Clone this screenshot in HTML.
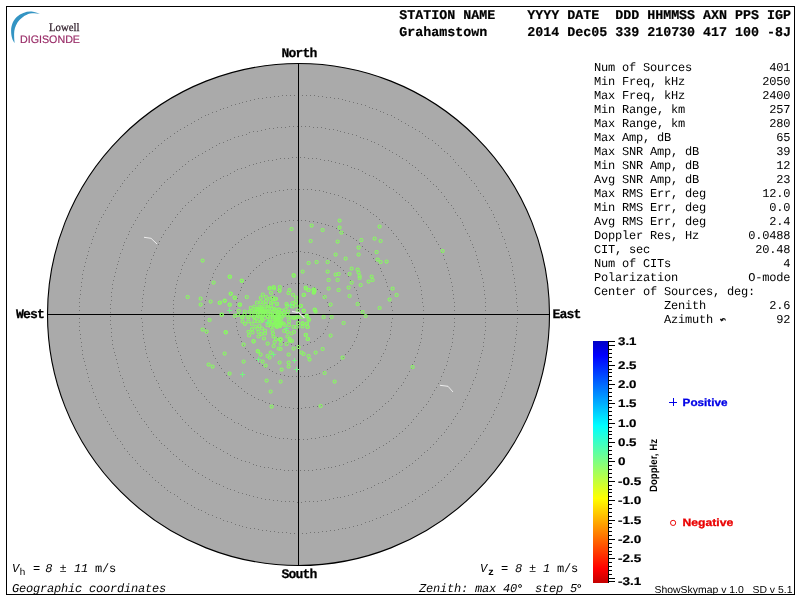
<!DOCTYPE html>
<html><head><meta charset="utf-8"><title>Skymap</title>
<style>
html,body{margin:0;padding:0;background:#fff;}
body{width:800px;height:600px;overflow:hidden;position:relative;font-family:"Liberation Sans",sans-serif;}
svg{position:absolute;left:0;top:0;display:block;will-change:transform;text-rendering:geometricPrecision}
.m{font-family:"Liberation Mono",monospace;}
.s{font-family:"Liberation Sans",sans-serif;}
.sf{font-family:"Liberation Serif",serif;}
text{white-space:pre}
</style></head><body>
<svg width="800" height="600" viewBox="0 0 800 600">
<defs>
<linearGradient id="cb" x1="0" y1="0" x2="0" y2="1">
<stop offset="0" stop-color="#0000c4"/>
<stop offset="0.06" stop-color="#0000ff"/>
<stop offset="0.35" stop-color="#00ffff"/>
<stop offset="0.5" stop-color="#80ff80"/>
<stop offset="0.65" stop-color="#ffff00"/>
<stop offset="0.94" stop-color="#ff0000"/>
<stop offset="1" stop-color="#c40000"/>
</linearGradient>
</defs>

<rect x="6.5" y="6.5" width="788" height="588" fill="none" stroke="#000" stroke-width="1" shape-rendering="crispEdges"/>
<circle cx="298.5" cy="314.5" r="251.0" fill="#aaaaaa" stroke="#000" stroke-width="1.1"/>
<path d="M329 314.5h1M329 310.5h1M328 306.5h1M327 302.5h1M325 298.5h1M323 295.5h1M320 292.5h1M317 289.5h1M314 287.5h1M310 285.5h1M307 284.5h1M303 283.5h1M299 283.5h1M295 283.5h1M291 283.5h1M287 284.5h1M283 286.5h1M280 288.5h1M277 291.5h1M274 294.5h1M272 297.5h1M270 300.5h1M268 304.5h1M267 308.5h1M267 312.5h1M267 316.5h1M267 320.5h1M268 324.5h1M270 327.5h1M272 331.5h1M274 334.5h1M277 337.5h1M280 339.5h1M283 342.5h1M287 343.5h1M291 344.5h1M295 345.5h1M299 345.5h1M303 345.5h1M307 344.5h1M310 342.5h1M314 341.5h1M317 338.5h1M320 336.5h1M323 333.5h1M325 329.5h1M327 326.5h1M328 322.5h1M329 318.5h1M360 314.5h1M360 310.5h1M360 306.5h1M359 302.5h1M358 298.5h1M357 294.5h1M356 290.5h1M354 287.5h1M352 283.5h1M350 280.5h1M348 276.5h1M345 273.5h1M343 270.5h1M340 267.5h1M337 265.5h1M334 262.5h1M330 260.5h1M327 258.5h1M323 257.5h1M319 255.5h1M316 254.5h1M312 253.5h1M308 252.5h1M304 252.5h1M300 251.5h1M296 251.5h1M292 252.5h1M288 252.5h1M284 253.5h1M280 254.5h1M276 255.5h1M272 257.5h1M269 258.5h1M265 260.5h1M262 262.5h1M259 265.5h1M256 267.5h1M253 270.5h1M250 273.5h1M248 276.5h1M245 280.5h1M243 283.5h1M241 287.5h1M240 290.5h1M238 294.5h1M237 298.5h1M236 302.5h1M236 306.5h1M235 310.5h1M235 314.5h1M235 318.5h1M236 322.5h1M236 326.5h1M237 330.5h1M238 334.5h1M240 337.5h1M241 341.5h1M243 345.5h1M245 348.5h1M248 351.5h1M250 354.5h1M253 357.5h1M256 360.5h1M259 363.5h1M262 365.5h1M265 367.5h1M269 369.5h1M272 371.5h1M276 373.5h1M280 374.5h1M284 375.5h1M288 376.5h1M292 376.5h1M296 376.5h1M300 376.5h1M304 376.5h1M308 376.5h1M312 375.5h1M316 374.5h1M319 373.5h1M323 371.5h1M327 369.5h1M330 367.5h1M334 365.5h1M337 363.5h1M340 360.5h1M343 357.5h1M345 354.5h1M348 351.5h1M350 348.5h1M352 345.5h1M354 341.5h1M356 337.5h1M357 334.5h1M358 330.5h1M359 326.5h1M360 322.5h1M360 318.5h1M392 314.5h1M392 310.5h1M391 306.5h1M391 302.5h1M390 298.5h1M390 294.5h1M389 290.5h1M387 286.5h1M386 282.5h1M385 279.5h1M383 275.5h1M381 271.5h1M380 268.5h1M378 264.5h1M375 261.5h1M373 258.5h1M371 254.5h1M368 251.5h1M365 249.5h1M362 246.5h1M359 243.5h1M356 240.5h1M353 238.5h1M350 236.5h1M346 234.5h1M343 232.5h1M339 230.5h1M336 228.5h1M332 226.5h1M328 225.5h1M325 224.5h1M321 223.5h1M317 222.5h1M313 221.5h1M309 221.5h1M305 220.5h1M301 220.5h1M297 220.5h1M293 220.5h1M289 220.5h1M285 221.5h1M281 221.5h1M277 222.5h1M273 223.5h1M269 224.5h1M265 226.5h1M262 227.5h1M258 229.5h1M254 231.5h1M251 233.5h1M247 235.5h1M244 237.5h1M241 239.5h1M238 242.5h1M235 244.5h1M232 247.5h1M229 250.5h1M226 253.5h1M224 256.5h1M221 259.5h1M219 263.5h1M217 266.5h1M215 269.5h1M213 273.5h1M212 277.5h1M210 280.5h1M209 284.5h1M208 288.5h1M207 292.5h1M206 296.5h1M205 300.5h1M204 304.5h1M204 308.5h1M204 312.5h1M204 316.5h1M204 320.5h1M204 324.5h1M205 328.5h1M206 332.5h1M207 336.5h1M208 340.5h1M209 343.5h1M210 347.5h1M212 351.5h1M213 355.5h1M215 358.5h1M217 362.5h1M219 365.5h1M221 368.5h1M224 372.5h1M226 375.5h1M229 378.5h1M232 381.5h1M235 383.5h1M238 386.5h1M241 388.5h1M244 391.5h1M247 393.5h1M251 395.5h1M254 397.5h1M258 399.5h1M262 400.5h1M265 402.5h1M269 403.5h1M273 404.5h1M277 405.5h1M281 406.5h1M285 407.5h1M289 407.5h1M293 408.5h1M297 408.5h1M301 408.5h1M305 407.5h1M309 407.5h1M313 406.5h1M317 406.5h1M321 405.5h1M325 404.5h1M328 403.5h1M332 401.5h1M336 400.5h1M339 398.5h1M343 396.5h1M346 394.5h1M350 392.5h1M353 390.5h1M356 387.5h1M359 385.5h1M362 382.5h1M365 379.5h1M368 376.5h1M371 373.5h1M373 370.5h1M375 367.5h1M378 363.5h1M380 360.5h1M381 356.5h1M383 353.5h1M385 349.5h1M386 345.5h1M387 341.5h1M389 338.5h1M390 334.5h1M390 330.5h1M391 326.5h1M391 322.5h1M392 318.5h1M423 314.5h1M423 310.5h1M423 306.5h1M422 302.5h1M422 298.5h1M421 294.5h1M421 290.5h1M420 286.5h1M419 282.5h1M418 278.5h1M417 275.5h1M415 271.5h1M414 267.5h1M412 263.5h1M411 260.5h1M409 256.5h1M407 253.5h1M405 249.5h1M403 246.5h1M401 243.5h1M398 239.5h1M396 236.5h1M393 233.5h1M391 230.5h1M388 227.5h1M385 224.5h1M382 222.5h1M379 219.5h1M376 216.5h1M373 214.5h1M370 212.5h1M367 209.5h1M363 207.5h1M360 205.5h1M356 203.5h1M353 201.5h1M349 200.5h1M345 198.5h1M342 197.5h1M338 195.5h1M334 194.5h1M330 193.5h1M326 192.5h1M323 191.5h1M319 190.5h1M315 190.5h1M311 189.5h1M307 189.5h1M303 189.5h1M299 189.5h1M295 189.5h1M291 189.5h1M287 189.5h1M283 190.5h1M279 190.5h1M275 191.5h1M271 192.5h1M267 192.5h1M263 193.5h1M260 195.5h1M256 196.5h1M252 197.5h1M248 199.5h1M245 200.5h1M241 202.5h1M238 204.5h1M234 206.5h1M231 208.5h1M227 210.5h1M224 213.5h1M221 215.5h1M218 218.5h1M215 220.5h1M212 223.5h1M209 226.5h1M206 229.5h1M204 232.5h1M201 235.5h1M198 238.5h1M196 241.5h1M194 244.5h1M192 248.5h1M190 251.5h1M188 254.5h1M186 258.5h1M184 262.5h1M182 265.5h1M181 269.5h1M180 273.5h1M178 276.5h1M177 280.5h1M176 284.5h1M175 288.5h1M175 292.5h1M174 296.5h1M173 300.5h1M173 304.5h1M173 308.5h1M173 312.5h1M173 316.5h1M173 320.5h1M173 324.5h1M173 328.5h1M174 332.5h1M175 336.5h1M175 340.5h1M176 343.5h1M177 347.5h1M178 351.5h1M180 355.5h1M181 359.5h1M182 362.5h1M184 366.5h1M186 370.5h1M188 373.5h1M190 377.5h1M192 380.5h1M194 383.5h1M196 387.5h1M198 390.5h1M201 393.5h1M204 396.5h1M206 399.5h1M209 402.5h1M212 405.5h1M215 407.5h1M218 410.5h1M221 413.5h1M224 415.5h1M227 417.5h1M231 419.5h1M234 422.5h1M238 423.5h1M241 425.5h1M245 427.5h1M248 429.5h1M252 430.5h1M256 432.5h1M260 433.5h1M263 434.5h1M267 435.5h1M271 436.5h1M275 437.5h1M279 438.5h1M283 438.5h1M287 438.5h1M291 439.5h1M295 439.5h1M299 439.5h1M303 439.5h1M307 439.5h1M311 438.5h1M315 438.5h1M319 437.5h1M323 436.5h1M326 436.5h1M330 435.5h1M334 434.5h1M338 432.5h1M342 431.5h1M345 430.5h1M349 428.5h1M353 426.5h1M356 424.5h1M360 423.5h1M363 420.5h1M367 418.5h1M370 416.5h1M373 414.5h1M376 411.5h1M379 409.5h1M382 406.5h1M385 403.5h1M388 401.5h1M391 398.5h1M393 395.5h1M396 391.5h1M398 388.5h1M401 385.5h1M403 382.5h1M405 378.5h1M407 375.5h1M409 371.5h1M411 368.5h1M412 364.5h1M414 361.5h1M415 357.5h1M417 353.5h1M418 349.5h1M419 345.5h1M420 342.5h1M421 338.5h1M421 334.5h1M422 330.5h1M422 326.5h1M423 322.5h1M423 318.5h1M454 314.5h1M454 310.5h1M454 306.5h1M454 302.5h1M453 298.5h1M453 294.5h1M452 290.5h1M452 286.5h1M451 282.5h1M450 278.5h1M449 274.5h1M448 270.5h1M447 267.5h1M446 263.5h1M444 259.5h1M443 255.5h1M441 252.5h1M440 248.5h1M438 244.5h1M436 241.5h1M434 237.5h1M432 234.5h1M430 230.5h1M428 227.5h1M426 224.5h1M423 221.5h1M421 217.5h1M418 214.5h1M416 211.5h1M413 208.5h1M411 205.5h1M408 202.5h1M405 200.5h1M402 197.5h1M399 194.5h1M396 192.5h1M393 189.5h1M389 187.5h1M386 185.5h1M383 182.5h1M379 180.5h1M376 178.5h1M373 176.5h1M369 175.5h1M365 173.5h1M362 171.5h1M358 169.5h1M354 168.5h1M351 167.5h1M347 165.5h1M343 164.5h1M339 163.5h1M335 162.5h1M331 161.5h1M328 160.5h1M324 160.5h1M320 159.5h1M316 158.5h1M312 158.5h1M308 158.5h1M304 157.5h1M300 157.5h1M296 157.5h1M292 157.5h1M288 158.5h1M284 158.5h1M280 158.5h1M276 159.5h1M272 160.5h1M268 160.5h1M264 161.5h1M260 162.5h1M256 163.5h1M253 164.5h1M249 165.5h1M245 167.5h1M241 168.5h1M237 169.5h1M234 171.5h1M230 173.5h1M227 175.5h1M223 176.5h1M220 178.5h1M216 180.5h1M213 182.5h1M209 185.5h1M206 187.5h1M203 189.5h1M200 192.5h1M197 194.5h1M194 197.5h1M191 200.5h1M188 202.5h1M185 205.5h1M182 208.5h1M180 211.5h1M177 214.5h1M175 217.5h1M172 221.5h1M170 224.5h1M168 227.5h1M165 230.5h1M163 234.5h1M161 237.5h1M159 241.5h1M158 244.5h1M156 248.5h1M154 252.5h1M153 255.5h1M151 259.5h1M150 263.5h1M149 267.5h1M147 270.5h1M146 274.5h1M145 278.5h1M145 282.5h1M144 286.5h1M143 290.5h1M143 294.5h1M142 298.5h1M142 302.5h1M142 306.5h1M141 310.5h1M141 314.5h1M141 318.5h1M142 322.5h1M142 326.5h1M142 330.5h1M143 334.5h1M143 338.5h1M144 342.5h1M145 346.5h1M145 349.5h1M146 353.5h1M147 357.5h1M149 361.5h1M150 365.5h1M151 369.5h1M153 372.5h1M154 376.5h1M156 380.5h1M158 383.5h1M159 387.5h1M161 390.5h1M163 394.5h1M165 397.5h1M168 401.5h1M170 404.5h1M172 407.5h1M175 410.5h1M177 413.5h1M180 416.5h1M182 419.5h1M185 422.5h1M188 425.5h1M191 428.5h1M194 431.5h1M197 433.5h1M200 436.5h1M203 438.5h1M206 441.5h1M209 443.5h1M213 445.5h1M216 447.5h1M220 449.5h1M223 451.5h1M227 453.5h1M230 455.5h1M234 457.5h1M237 458.5h1M241 460.5h1M245 461.5h1M249 462.5h1M253 464.5h1M256 465.5h1M260 466.5h1M264 467.5h1M268 467.5h1M272 468.5h1M276 469.5h1M280 469.5h1M284 470.5h1M288 470.5h1M292 470.5h1M296 470.5h1M300 470.5h1M304 470.5h1M308 470.5h1M312 470.5h1M316 469.5h1M320 469.5h1M324 468.5h1M328 467.5h1M331 467.5h1M335 466.5h1M339 465.5h1M343 464.5h1M347 462.5h1M351 461.5h1M354 460.5h1M358 458.5h1M362 457.5h1M365 455.5h1M369 453.5h1M373 451.5h1M376 449.5h1M379 447.5h1M383 445.5h1M386 443.5h1M389 441.5h1M393 438.5h1M396 436.5h1M399 433.5h1M402 431.5h1M405 428.5h1M408 425.5h1M411 422.5h1M413 419.5h1M416 416.5h1M418 413.5h1M421 410.5h1M423 407.5h1M426 404.5h1M428 401.5h1M430 397.5h1M432 394.5h1M434 390.5h1M436 387.5h1M438 383.5h1M440 380.5h1M441 376.5h1M443 372.5h1M444 369.5h1M446 365.5h1M447 361.5h1M448 357.5h1M449 353.5h1M450 349.5h1M451 346.5h1M452 342.5h1M452 338.5h1M453 334.5h1M453 330.5h1M454 326.5h1M454 322.5h1M454 318.5h1M486 314.5h1M485 310.5h1M485 306.5h1M485 302.5h1M485 298.5h1M484 294.5h1M484 290.5h1M483 286.5h1M483 282.5h1M482 278.5h1M481 274.5h1M480 270.5h1M479 266.5h1M478 262.5h1M477 259.5h1M476 255.5h1M475 251.5h1M473 247.5h1M472 244.5h1M470 240.5h1M469 236.5h1M467 233.5h1M465 229.5h1M463 225.5h1M462 222.5h1M460 218.5h1M457 215.5h1M455 212.5h1M453 208.5h1M451 205.5h1M448 202.5h1M446 199.5h1M444 196.5h1M441 192.5h1M438 189.5h1M436 186.5h1M433 184.5h1M430 181.5h1M427 178.5h1M424 175.5h1M421 173.5h1M418 170.5h1M415 167.5h1M412 165.5h1M409 163.5h1M406 160.5h1M402 158.5h1M399 156.5h1M396 154.5h1M392 152.5h1M389 150.5h1M385 148.5h1M382 146.5h1M378 144.5h1M374 142.5h1M371 141.5h1M367 139.5h1M363 138.5h1M360 137.5h1M356 135.5h1M352 134.5h1M348 133.5h1M344 132.5h1M340 131.5h1M337 130.5h1M333 129.5h1M329 129.5h1M325 128.5h1M321 127.5h1M317 127.5h1M313 127.5h1M309 126.5h1M305 126.5h1M301 126.5h1M297 126.5h1M293 126.5h1M289 126.5h1M285 127.5h1M281 127.5h1M277 127.5h1M273 128.5h1M269 128.5h1M265 129.5h1M261 130.5h1M257 131.5h1M253 131.5h1M249 132.5h1M246 134.5h1M242 135.5h1M238 136.5h1M234 137.5h1M230 139.5h1M227 140.5h1M223 142.5h1M219 143.5h1M216 145.5h1M212 147.5h1M209 149.5h1M205 151.5h1M202 153.5h1M198 155.5h1M195 157.5h1M192 159.5h1M188 161.5h1M185 164.5h1M182 166.5h1M179 169.5h1M176 171.5h1M173 174.5h1M170 177.5h1M167 179.5h1M164 182.5h1M161 185.5h1M159 188.5h1M156 191.5h1M153 194.5h1M151 197.5h1M148 200.5h1M146 203.5h1M144 207.5h1M141 210.5h1M139 213.5h1M137 217.5h1M135 220.5h1M133 224.5h1M131 227.5h1M129 231.5h1M128 234.5h1M126 238.5h1M124 242.5h1M123 245.5h1M122 249.5h1M120 253.5h1M119 257.5h1M118 261.5h1M117 264.5h1M116 268.5h1M115 272.5h1M114 276.5h1M113 280.5h1M112 284.5h1M112 288.5h1M111 292.5h1M111 296.5h1M111 300.5h1M110 304.5h1M110 308.5h1M110 312.5h1M110 316.5h1M110 320.5h1M110 324.5h1M111 328.5h1M111 332.5h1M111 336.5h1M112 340.5h1M112 344.5h1M113 348.5h1M114 352.5h1M115 355.5h1M116 359.5h1M117 363.5h1M118 367.5h1M119 371.5h1M120 375.5h1M122 378.5h1M123 382.5h1M124 386.5h1M126 390.5h1M128 393.5h1M129 397.5h1M131 400.5h1M133 404.5h1M135 407.5h1M137 411.5h1M139 414.5h1M141 418.5h1M144 421.5h1M146 424.5h1M148 427.5h1M151 431.5h1M153 434.5h1M156 437.5h1M159 440.5h1M161 443.5h1M164 445.5h1M167 448.5h1M170 451.5h1M173 454.5h1M176 456.5h1M179 459.5h1M182 461.5h1M185 464.5h1M188 466.5h1M192 469.5h1M195 471.5h1M198 473.5h1M202 475.5h1M205 477.5h1M209 479.5h1M212 481.5h1M216 483.5h1M219 484.5h1M223 486.5h1M227 488.5h1M230 489.5h1M234 490.5h1M238 492.5h1M242 493.5h1M246 494.5h1M249 495.5h1M253 496.5h1M257 497.5h1M261 498.5h1M265 499.5h1M269 499.5h1M273 500.5h1M277 500.5h1M281 501.5h1M285 501.5h1M289 501.5h1M293 501.5h1M297 502.5h1M301 502.5h1M305 501.5h1M309 501.5h1M313 501.5h1M317 501.5h1M321 500.5h1M325 500.5h1M329 499.5h1M333 498.5h1M337 497.5h1M340 497.5h1M344 496.5h1M348 495.5h1M352 494.5h1M356 492.5h1M360 491.5h1M363 490.5h1M367 488.5h1M371 487.5h1M374 485.5h1M378 483.5h1M382 482.5h1M385 480.5h1M389 478.5h1M392 476.5h1M396 474.5h1M399 472.5h1M402 470.5h1M406 467.5h1M409 465.5h1M412 463.5h1M415 460.5h1M418 458.5h1M421 455.5h1M424 452.5h1M427 450.5h1M430 447.5h1M433 444.5h1M436 441.5h1M438 438.5h1M441 435.5h1M444 432.5h1M446 429.5h1M448 426.5h1M451 423.5h1M453 419.5h1M455 416.5h1M457 413.5h1M460 409.5h1M462 406.5h1M463 402.5h1M465 399.5h1M467 395.5h1M469 391.5h1M470 388.5h1M472 384.5h1M473 380.5h1M475 377.5h1M476 373.5h1M477 369.5h1M478 365.5h1M479 361.5h1M480 357.5h1M481 353.5h1M482 350.5h1M483 346.5h1M483 342.5h1M484 338.5h1M484 334.5h1M485 330.5h1M485 326.5h1M485 322.5h1M485 318.5h1M517 314.5h1M517 310.5h1M517 306.5h1M516 302.5h1M516 298.5h1M516 294.5h1M515 290.5h1M515 286.5h1M514 282.5h1M514 278.5h1M513 274.5h1M512 270.5h1M512 266.5h1M511 262.5h1M510 258.5h1M509 255.5h1M508 251.5h1M506 247.5h1M505 243.5h1M504 239.5h1M502 236.5h1M501 232.5h1M499 228.5h1M498 224.5h1M496 221.5h1M494 217.5h1M493 214.5h1M491 210.5h1M489 207.5h1M487 203.5h1M485 200.5h1M483 196.5h1M480 193.5h1M478 190.5h1M476 186.5h1M474 183.5h1M471 180.5h1M469 177.5h1M466 174.5h1M464 171.5h1M461 168.5h1M458 165.5h1M455 162.5h1M453 159.5h1M450 156.5h1M447 153.5h1M444 151.5h1M441 148.5h1M438 145.5h1M435 143.5h1M432 140.5h1M428 138.5h1M425 136.5h1M422 133.5h1M419 131.5h1M415 129.5h1M412 127.5h1M408 125.5h1M405 123.5h1M401 121.5h1M398 119.5h1M394 117.5h1M391 115.5h1M387 114.5h1M383 112.5h1M380 111.5h1M376 109.5h1M372 108.5h1M369 107.5h1M365 105.5h1M361 104.5h1M357 103.5h1M353 102.5h1M349 101.5h1M345 100.5h1M342 99.5h1M338 98.5h1M334 98.5h1M330 97.5h1M326 97.5h1M322 96.5h1M318 96.5h1M314 95.5h1M310 95.5h1M306 95.5h1M302 95.5h1M298 95.5h1M294 95.5h1M290 95.5h1M286 95.5h1M282 95.5h1M278 96.5h1M274 96.5h1M270 97.5h1M266 97.5h1M262 98.5h1M258 98.5h1M254 99.5h1M250 100.5h1M246 101.5h1M242 102.5h1M239 103.5h1M235 104.5h1M231 105.5h1M227 107.5h1M223 108.5h1M220 109.5h1M216 111.5h1M212 112.5h1M208 114.5h1M205 115.5h1M201 117.5h1M198 119.5h1M194 121.5h1M191 123.5h1M187 125.5h1M184 127.5h1M180 129.5h1M177 131.5h1M174 133.5h1M170 136.5h1M167 138.5h1M164 140.5h1M161 143.5h1M158 145.5h1M155 148.5h1M152 151.5h1M149 153.5h1M146 156.5h1M143 159.5h1M140 162.5h1M137 165.5h1M135 168.5h1M132 171.5h1M129 174.5h1M127 177.5h1M124 180.5h1M122 183.5h1M120 186.5h1M117 190.5h1M115 193.5h1M113 196.5h1M111 200.5h1M109 203.5h1M107 207.5h1M105 210.5h1M103 214.5h1M101 217.5h1M99 221.5h1M98 224.5h1M96 228.5h1M95 232.5h1M93 236.5h1M92 239.5h1M91 243.5h1M89 247.5h1M88 251.5h1M87 255.5h1M86 258.5h1M85 262.5h1M84 266.5h1M83 270.5h1M82 274.5h1M82 278.5h1M81 282.5h1M81 286.5h1M80 290.5h1M80 294.5h1M79 298.5h1M79 302.5h1M79 306.5h1M79 310.5h1M79 314.5h1M79 318.5h1M79 322.5h1M79 326.5h1M79 330.5h1M80 334.5h1M80 338.5h1M81 342.5h1M81 346.5h1M82 350.5h1M82 354.5h1M83 358.5h1M84 361.5h1M85 365.5h1M86 369.5h1M87 373.5h1M88 377.5h1M89 381.5h1M91 385.5h1M92 388.5h1M93 392.5h1M95 396.5h1M96 399.5h1M98 403.5h1M99 407.5h1M101 410.5h1M103 414.5h1M105 417.5h1M107 421.5h1M109 424.5h1M111 428.5h1M113 431.5h1M115 435.5h1M117 438.5h1M120 441.5h1M122 444.5h1M124 448.5h1M127 451.5h1M129 454.5h1M132 457.5h1M135 460.5h1M137 463.5h1M140 466.5h1M143 469.5h1M146 471.5h1M149 474.5h1M152 477.5h1M155 480.5h1M158 482.5h1M161 485.5h1M164 487.5h1M167 490.5h1M170 492.5h1M174 494.5h1M177 496.5h1M180 499.5h1M184 501.5h1M187 503.5h1M191 505.5h1M194 507.5h1M198 509.5h1M201 510.5h1M205 512.5h1M208 514.5h1M212 515.5h1M216 517.5h1M220 518.5h1M223 520.5h1M227 521.5h1M231 522.5h1M235 524.5h1M239 525.5h1M242 526.5h1M246 527.5h1M250 528.5h1M254 528.5h1M258 529.5h1M262 530.5h1M266 530.5h1M270 531.5h1M274 531.5h1M278 532.5h1M282 532.5h1M286 532.5h1M290 533.5h1M294 533.5h1M298 533.5h1M302 533.5h1M306 533.5h1M310 532.5h1M314 532.5h1M318 532.5h1M322 531.5h1M326 531.5h1M330 530.5h1M334 530.5h1M338 529.5h1M342 528.5h1M345 528.5h1M349 527.5h1M353 526.5h1M357 525.5h1M361 524.5h1M365 522.5h1M369 521.5h1M372 520.5h1M376 518.5h1M380 517.5h1M383 515.5h1M387 514.5h1M391 512.5h1M394 510.5h1M398 509.5h1M401 507.5h1M405 505.5h1M408 503.5h1M412 501.5h1M415 499.5h1M419 496.5h1M422 494.5h1M425 492.5h1M428 490.5h1M432 487.5h1M435 485.5h1M438 482.5h1M441 480.5h1M444 477.5h1M447 474.5h1M450 471.5h1M453 469.5h1M455 466.5h1M458 463.5h1M461 460.5h1M464 457.5h1M466 454.5h1M469 451.5h1M471 448.5h1M474 444.5h1M476 441.5h1M478 438.5h1M480 435.5h1M483 431.5h1M485 428.5h1M487 424.5h1M489 421.5h1M491 417.5h1M493 414.5h1M494 410.5h1M496 407.5h1M498 403.5h1M499 399.5h1M501 396.5h1M502 392.5h1M504 388.5h1M505 385.5h1M506 381.5h1M508 377.5h1M509 373.5h1M510 369.5h1M511 365.5h1M512 361.5h1M512 358.5h1M513 354.5h1M514 350.5h1M514 346.5h1M515 342.5h1M515 338.5h1M516 334.5h1M516 330.5h1M516 326.5h1M517 322.5h1M517 318.5h1" stroke="#747474" stroke-width="1" fill="none" shape-rendering="crispEdges"/>
<path d="M298.5 63.5V565.5M47.5 314.5H549.5" stroke="#000" stroke-width="1" fill="none" shape-rendering="crispEdges"/>
<g fill="none" stroke="#ececec" stroke-width="1">
<path d="M144 237.3L151 238.3L157 244"/>
<path d="M440 385.3L448 386.3L453 392"/>
</g>
<g fill="none" stroke="#88f962" stroke-width="1.1">
<circle cx="246.8" cy="297.0" r="1.55"/>
<circle cx="262.8" cy="294.5" r="1.55"/>
<circle cx="271.0" cy="292.8" r="1.55"/>
<circle cx="269.5" cy="288.5" r="1.55"/>
<circle cx="274.0" cy="288.5" r="1.55"/>
<circle cx="279.5" cy="290.5" r="1.55"/>
<circle cx="266.0" cy="297.0" r="1.55"/>
<circle cx="260.8" cy="297.8" r="1.55"/>
<circle cx="270.0" cy="298.8" r="1.55"/>
<circle cx="272.5" cy="297.5" r="1.55"/>
<circle cx="275.0" cy="298.8" r="1.55"/>
<circle cx="257.0" cy="302.5" r="1.55"/>
<circle cx="260.5" cy="302.0" r="1.55"/>
<circle cx="263.5" cy="302.5" r="1.55"/>
<circle cx="266.0" cy="301.2" r="1.55"/>
<circle cx="277.0" cy="303.8" r="1.55"/>
<circle cx="271.0" cy="303.0" r="1.55"/>
<circle cx="273.0" cy="301.8" r="1.55"/>
<circle cx="240.0" cy="304.5" r="1.55"/>
<circle cx="250.8" cy="307.8" r="1.55"/>
<circle cx="261.5" cy="306.5" r="1.55"/>
<circle cx="265.5" cy="304.5" r="1.55"/>
<circle cx="268.0" cy="306.5" r="1.55"/>
<circle cx="271.0" cy="305.5" r="1.55"/>
<circle cx="255.5" cy="309.0" r="1.55"/>
<circle cx="258.0" cy="309.0" r="1.55"/>
<circle cx="261.5" cy="308.5" r="1.55"/>
<circle cx="264.5" cy="308.5" r="1.55"/>
<circle cx="268.5" cy="308.0" r="1.55"/>
<circle cx="272.0" cy="309.0" r="1.55"/>
<circle cx="274.5" cy="310.0" r="1.55"/>
<circle cx="278.5" cy="309.5" r="1.55"/>
<circle cx="244.8" cy="311.5" r="1.55"/>
<circle cx="249.5" cy="311.5" r="1.55"/>
<circle cx="251.5" cy="310.5" r="1.55"/>
<circle cx="255.0" cy="311.5" r="1.55"/>
<circle cx="257.5" cy="312.0" r="1.55"/>
<circle cx="260.5" cy="311.0" r="1.55"/>
<circle cx="262.5" cy="311.5" r="1.55"/>
<circle cx="265.5" cy="311.5" r="1.55"/>
<circle cx="267.5" cy="311.5" r="1.55"/>
<circle cx="270.5" cy="311.5" r="1.55"/>
<circle cx="273.0" cy="312.0" r="1.55"/>
<circle cx="276.0" cy="311.5" r="1.55"/>
<circle cx="278.5" cy="312.0" r="1.55"/>
<circle cx="244.5" cy="314.5" r="1.55"/>
<circle cx="251.5" cy="315.0" r="1.55"/>
<circle cx="248.5" cy="317.0" r="1.55"/>
<circle cx="242.0" cy="317.0" r="1.55"/>
<circle cx="254.5" cy="317.0" r="1.55"/>
<circle cx="257.5" cy="315.5" r="1.55"/>
<circle cx="260.5" cy="314.0" r="1.55"/>
<circle cx="262.5" cy="314.5" r="1.55"/>
<circle cx="265.5" cy="315.0" r="1.55"/>
<circle cx="267.5" cy="316.0" r="1.55"/>
<circle cx="270.5" cy="314.5" r="1.55"/>
<circle cx="272.5" cy="315.5" r="1.55"/>
<circle cx="275.0" cy="314.0" r="1.55"/>
<circle cx="277.0" cy="316.0" r="1.55"/>
<circle cx="279.5" cy="315.0" r="1.55"/>
<circle cx="242.5" cy="317.5" r="1.55"/>
<circle cx="248.2" cy="317.5" r="1.55"/>
<circle cx="242.5" cy="321.5" r="1.55"/>
<circle cx="248.5" cy="321.5" r="1.55"/>
<circle cx="245.0" cy="323.8" r="1.55"/>
<circle cx="251.8" cy="324.0" r="1.55"/>
<circle cx="254.0" cy="317.0" r="1.55"/>
<circle cx="256.5" cy="318.5" r="1.55"/>
<circle cx="260.0" cy="317.0" r="1.55"/>
<circle cx="262.0" cy="319.0" r="1.55"/>
<circle cx="257.5" cy="321.5" r="1.55"/>
<circle cx="261.0" cy="321.5" r="1.55"/>
<circle cx="254.5" cy="321.0" r="1.55"/>
<circle cx="265.0" cy="318.0" r="1.55"/>
<circle cx="268.0" cy="317.0" r="1.55"/>
<circle cx="270.0" cy="319.5" r="1.55"/>
<circle cx="273.0" cy="317.5" r="1.55"/>
<circle cx="276.0" cy="319.0" r="1.55"/>
<circle cx="279.0" cy="317.0" r="1.55"/>
<circle cx="270.0" cy="323.0" r="1.55"/>
<circle cx="273.0" cy="322.0" r="1.55"/>
<circle cx="276.0" cy="322.5" r="1.55"/>
<circle cx="279.0" cy="321.0" r="1.55"/>
<circle cx="267.5" cy="325.2" r="1.55"/>
<circle cx="271.0" cy="326.5" r="1.55"/>
<circle cx="274.0" cy="325.5" r="1.55"/>
<circle cx="277.0" cy="326.5" r="1.55"/>
<circle cx="279.5" cy="325.0" r="1.55"/>
<circle cx="255.5" cy="326.5" r="1.55"/>
<circle cx="259.5" cy="326.0" r="1.55"/>
<circle cx="252.0" cy="329.2" r="1.55"/>
<circle cx="248.5" cy="331.8" r="1.55"/>
<circle cx="252.5" cy="332.5" r="1.55"/>
<circle cx="249.0" cy="335.5" r="1.55"/>
<circle cx="257.5" cy="329.0" r="1.55"/>
<circle cx="258.5" cy="332.0" r="1.55"/>
<circle cx="262.0" cy="328.5" r="1.55"/>
<circle cx="265.0" cy="330.5" r="1.55"/>
<circle cx="265.0" cy="333.5" r="1.55"/>
<circle cx="261.5" cy="334.0" r="1.55"/>
<circle cx="258.5" cy="336.5" r="1.55"/>
<circle cx="264.0" cy="338.5" r="1.55"/>
<circle cx="272.5" cy="330.0" r="1.55"/>
<circle cx="273.0" cy="333.5" r="1.55"/>
<circle cx="273.5" cy="336.5" r="1.55"/>
<circle cx="276.0" cy="339.0" r="1.55"/>
<circle cx="253.5" cy="341.0" r="1.55"/>
<circle cx="279.5" cy="339.5" r="1.55"/>
<circle cx="279.5" cy="290.8" r="1.55"/>
<circle cx="289.5" cy="290.2" r="1.55"/>
<circle cx="288.5" cy="293.0" r="1.55"/>
<circle cx="293.0" cy="294.8" r="1.55"/>
<circle cx="296.0" cy="297.5" r="1.55"/>
<circle cx="296.0" cy="301.5" r="1.55"/>
<circle cx="295.8" cy="305.2" r="1.55"/>
<circle cx="292.5" cy="303.2" r="1.55"/>
<circle cx="292.5" cy="306.5" r="1.55"/>
<circle cx="286.5" cy="304.0" r="1.55"/>
<circle cx="287.2" cy="305.8" r="1.55"/>
<circle cx="277.0" cy="304.0" r="1.55"/>
<circle cx="276.0" cy="298.8" r="1.55"/>
<circle cx="304.0" cy="294.8" r="1.55"/>
<circle cx="301.0" cy="305.8" r="1.55"/>
<circle cx="297.8" cy="310.5" r="1.55"/>
<circle cx="304.0" cy="310.8" r="1.55"/>
<circle cx="315.0" cy="310.0" r="1.55"/>
<circle cx="308.5" cy="290.0" r="1.55"/>
<circle cx="306.0" cy="288.5" r="1.55"/>
<circle cx="314.0" cy="292.5" r="1.55"/>
<circle cx="314.0" cy="289.5" r="1.55"/>
<circle cx="279.0" cy="309.5" r="1.55"/>
<circle cx="282.0" cy="310.5" r="1.55"/>
<circle cx="285.5" cy="309.5" r="1.55"/>
<circle cx="288.0" cy="311.5" r="1.55"/>
<circle cx="278.0" cy="312.5" r="1.55"/>
<circle cx="281.0" cy="313.5" r="1.55"/>
<circle cx="284.0" cy="313.0" r="1.55"/>
<circle cx="287.5" cy="315.0" r="1.55"/>
<circle cx="279.0" cy="316.0" r="1.55"/>
<circle cx="282.5" cy="316.5" r="1.55"/>
<circle cx="307.0" cy="316.0" r="1.55"/>
<circle cx="293.5" cy="317.5" r="1.55"/>
<circle cx="297.0" cy="317.0" r="1.55"/>
<circle cx="291.0" cy="317.5" r="1.55"/>
<circle cx="294.5" cy="318.0" r="1.55"/>
<circle cx="298.0" cy="317.0" r="1.55"/>
<circle cx="302.0" cy="317.0" r="1.55"/>
<circle cx="306.5" cy="316.0" r="1.55"/>
<circle cx="309.0" cy="320.0" r="1.55"/>
<circle cx="298.0" cy="323.2" r="1.55"/>
<circle cx="302.5" cy="323.2" r="1.55"/>
<circle cx="307.0" cy="323.5" r="1.55"/>
<circle cx="302.5" cy="326.5" r="1.55"/>
<circle cx="307.5" cy="327.0" r="1.55"/>
<circle cx="293.5" cy="326.8" r="1.55"/>
<circle cx="296.8" cy="327.0" r="1.55"/>
<circle cx="289.0" cy="321.5" r="1.55"/>
<circle cx="288.5" cy="317.5" r="1.55"/>
<circle cx="284.5" cy="325.0" r="1.55"/>
<circle cx="289.0" cy="325.0" r="1.55"/>
<circle cx="284.2" cy="331.0" r="1.55"/>
<circle cx="287.5" cy="332.0" r="1.55"/>
<circle cx="291.5" cy="333.5" r="1.55"/>
<circle cx="294.0" cy="332.0" r="1.55"/>
<circle cx="287.5" cy="336.5" r="1.55"/>
<circle cx="289.8" cy="338.8" r="1.55"/>
<circle cx="292.0" cy="341.0" r="1.55"/>
<circle cx="280.8" cy="339.2" r="1.55"/>
<circle cx="306.0" cy="334.8" r="1.55"/>
<circle cx="308.0" cy="339.0" r="1.55"/>
<circle cx="280.0" cy="326.2" r="1.55"/>
<circle cx="277.0" cy="327.0" r="1.55"/>
<circle cx="277.5" cy="314.0" r="1.55"/>
<circle cx="281.0" cy="314.5" r="1.55"/>
<circle cx="284.0" cy="315.0" r="1.55"/>
<circle cx="278.0" cy="318.0" r="1.55"/>
<circle cx="281.0" cy="319.0" r="1.55"/>
<circle cx="278.5" cy="322.0" r="1.55"/>
<circle cx="281.5" cy="322.5" r="1.55"/>
<circle cx="277.0" cy="325.0" r="1.55"/>
<circle cx="259.5" cy="311.5" r="1.55"/>
<circle cx="259.5" cy="309.5" r="1.55"/>
<circle cx="257.5" cy="309.5" r="1.55"/>
<circle cx="264.5" cy="311.5" r="1.55"/>
<circle cx="264.5" cy="311.5" r="1.55"/>
<circle cx="261.5" cy="310.5" r="1.55"/>
<circle cx="254.5" cy="312.5" r="1.55"/>
<circle cx="262.5" cy="311.5" r="1.55"/>
<circle cx="254.5" cy="306.5" r="1.55"/>
<circle cx="257.5" cy="309.5" r="1.55"/>
<circle cx="261.5" cy="310.5" r="1.55"/>
<circle cx="262.5" cy="308.5" r="1.55"/>
<circle cx="261.5" cy="311.5" r="1.55"/>
<circle cx="258.5" cy="314.5" r="1.55"/>
<circle cx="279.5" cy="325.5" r="1.55"/>
<circle cx="275.5" cy="320.5" r="1.55"/>
<circle cx="276.5" cy="322.5" r="1.55"/>
<circle cx="280.5" cy="323.5" r="1.55"/>
<circle cx="275.5" cy="320.5" r="1.55"/>
<circle cx="275.5" cy="325.5" r="1.55"/>
<circle cx="274.5" cy="323.5" r="1.55"/>
<circle cx="279.5" cy="318.5" r="1.55"/>
<circle cx="277.5" cy="325.5" r="1.55"/>
<circle cx="269.5" cy="321.5" r="1.55"/>
<circle cx="277.5" cy="320.5" r="1.55"/>
<circle cx="279.5" cy="322.5" r="1.55"/>
<circle cx="271.5" cy="324.5" r="1.55"/>
<circle cx="280.5" cy="324.5" r="1.55"/>
<circle cx="283.5" cy="323.5" r="1.55"/>
<circle cx="277.5" cy="319.5" r="1.55"/>
<circle cx="271.5" cy="314.5" r="1.55"/>
<circle cx="266.5" cy="311.5" r="1.55"/>
<circle cx="263.5" cy="314.5" r="1.55"/>
<circle cx="274.5" cy="308.5" r="1.55"/>
<circle cx="261.5" cy="317.5" r="1.55"/>
<circle cx="275.5" cy="318.5" r="1.55"/>
<circle cx="259.5" cy="306.5" r="1.55"/>
<circle cx="270.5" cy="313.5" r="1.55"/>
<circle cx="262.5" cy="320.5" r="1.55"/>
<circle cx="274.5" cy="317.5" r="1.55"/>
<circle cx="339.6" cy="220.6" r="1.55"/>
<circle cx="311.6" cy="225.6" r="1.55"/>
<circle cx="322.6" cy="230.0" r="1.55"/>
<circle cx="339.6" cy="227.6" r="1.55"/>
<circle cx="341.4" cy="232.6" r="1.55"/>
<circle cx="379.6" cy="226.6" r="1.55"/>
<circle cx="310.6" cy="241.0" r="1.55"/>
<circle cx="337.6" cy="241.6" r="1.55"/>
<circle cx="361.4" cy="240.0" r="1.55"/>
<circle cx="374.6" cy="238.6" r="1.55"/>
<circle cx="380.6" cy="241.0" r="1.55"/>
<circle cx="358.6" cy="247.6" r="1.55"/>
<circle cx="376.6" cy="252.0" r="1.55"/>
<circle cx="335.6" cy="254.6" r="1.55"/>
<circle cx="358.6" cy="254.6" r="1.55"/>
<circle cx="345.6" cy="258.6" r="1.55"/>
<circle cx="442.6" cy="251.0" r="1.55"/>
<circle cx="377.6" cy="259.6" r="1.55"/>
<circle cx="380.6" cy="262.0" r="1.55"/>
<circle cx="386.6" cy="261.6" r="1.55"/>
<circle cx="308.6" cy="263.0" r="1.55"/>
<circle cx="316.6" cy="262.0" r="1.55"/>
<circle cx="327.6" cy="262.0" r="1.55"/>
<circle cx="302.6" cy="271.6" r="1.55"/>
<circle cx="327.6" cy="271.6" r="1.55"/>
<circle cx="351.6" cy="268.6" r="1.55"/>
<circle cx="357.6" cy="269.6" r="1.55"/>
<circle cx="358.6" cy="272.6" r="1.55"/>
<circle cx="335.6" cy="274.6" r="1.55"/>
<circle cx="338.6" cy="274.0" r="1.55"/>
<circle cx="349.6" cy="274.0" r="1.55"/>
<circle cx="359.6" cy="276.0" r="1.55"/>
<circle cx="359.6" cy="278.0" r="1.55"/>
<circle cx="371.6" cy="276.6" r="1.55"/>
<circle cx="328.6" cy="280.0" r="1.55"/>
<circle cx="337.6" cy="280.0" r="1.55"/>
<circle cx="351.6" cy="282.6" r="1.55"/>
<circle cx="368.6" cy="281.6" r="1.55"/>
<circle cx="372.6" cy="280.0" r="1.55"/>
<circle cx="360.6" cy="285.0" r="1.55"/>
<circle cx="305.6" cy="287.6" r="1.55"/>
<circle cx="308.6" cy="290.0" r="1.55"/>
<circle cx="313.6" cy="289.6" r="1.55"/>
<circle cx="313.6" cy="292.6" r="1.55"/>
<circle cx="314.6" cy="291.0" r="1.55"/>
<circle cx="328.6" cy="288.6" r="1.55"/>
<circle cx="338.6" cy="290.0" r="1.55"/>
<circle cx="348.6" cy="287.6" r="1.55"/>
<circle cx="392.6" cy="288.6" r="1.55"/>
<circle cx="303.6" cy="295.0" r="1.55"/>
<circle cx="324.6" cy="297.0" r="1.55"/>
<circle cx="349.6" cy="296.0" r="1.55"/>
<circle cx="396.6" cy="295.0" r="1.55"/>
<circle cx="389.6" cy="299.6" r="1.55"/>
<circle cx="330.6" cy="304.6" r="1.55"/>
<circle cx="357.6" cy="304.0" r="1.55"/>
<circle cx="300.6" cy="306.0" r="1.55"/>
<circle cx="379.6" cy="308.0" r="1.55"/>
<circle cx="303.6" cy="310.6" r="1.55"/>
<circle cx="314.6" cy="309.6" r="1.55"/>
<circle cx="315.6" cy="311.6" r="1.55"/>
<circle cx="362.6" cy="312.0" r="1.55"/>
<circle cx="306.6" cy="315.6" r="1.55"/>
<circle cx="323.6" cy="317.0" r="1.55"/>
<circle cx="331.6" cy="317.0" r="1.55"/>
<circle cx="365.6" cy="316.0" r="1.55"/>
<circle cx="308.6" cy="319.0" r="1.55"/>
<circle cx="343.6" cy="323.0" r="1.55"/>
<circle cx="302.6" cy="324.0" r="1.55"/>
<circle cx="306.6" cy="324.0" r="1.55"/>
<circle cx="307.6" cy="327.0" r="1.55"/>
<circle cx="305.6" cy="335.0" r="1.55"/>
<circle cx="307.6" cy="339.0" r="1.55"/>
<circle cx="330.6" cy="335.6" r="1.55"/>
<circle cx="322.6" cy="349.0" r="1.55"/>
<circle cx="315.6" cy="352.6" r="1.55"/>
<circle cx="301.6" cy="352.6" r="1.55"/>
<circle cx="303.6" cy="354.0" r="1.55"/>
<circle cx="308.6" cy="356.0" r="1.55"/>
<circle cx="309.6" cy="359.6" r="1.55"/>
<circle cx="342.6" cy="357.6" r="1.55"/>
<circle cx="324.6" cy="373.0" r="1.55"/>
<circle cx="334.6" cy="381.6" r="1.55"/>
<circle cx="412.6" cy="367.0" r="1.55"/>
<circle cx="320.6" cy="406.0" r="1.55"/>
<circle cx="291.6" cy="229.0" r="1.55"/>
<circle cx="202.6" cy="260.6" r="1.55"/>
<circle cx="293.6" cy="275.0" r="1.55"/>
<circle cx="229.6" cy="276.6" r="1.55"/>
<circle cx="213.6" cy="282.6" r="1.55"/>
<circle cx="241.6" cy="280.6" r="1.55"/>
<circle cx="187.6" cy="297.0" r="1.55"/>
<circle cx="200.6" cy="298.6" r="1.55"/>
<circle cx="200.6" cy="304.6" r="1.55"/>
<circle cx="210.6" cy="301.6" r="1.55"/>
<circle cx="219.6" cy="303.0" r="1.55"/>
<circle cx="224.6" cy="300.6" r="1.55"/>
<circle cx="230.6" cy="293.6" r="1.55"/>
<circle cx="234.6" cy="297.6" r="1.55"/>
<circle cx="229.6" cy="304.6" r="1.55"/>
<circle cx="239.6" cy="304.6" r="1.55"/>
<circle cx="221.6" cy="314.6" r="1.55"/>
<circle cx="209.6" cy="320.0" r="1.55"/>
<circle cx="202.6" cy="329.6" r="1.55"/>
<circle cx="206.6" cy="331.6" r="1.55"/>
<circle cx="225.6" cy="332.0" r="1.55"/>
<circle cx="224.6" cy="353.6" r="1.55"/>
<circle cx="208.6" cy="364.6" r="1.55"/>
<circle cx="212.6" cy="366.6" r="1.55"/>
<circle cx="229.6" cy="373.6" r="1.55"/>
<circle cx="243.6" cy="361.6" r="1.55"/>
<circle cx="243.6" cy="344.6" r="1.55"/>
<circle cx="253.6" cy="341.6" r="1.55"/>
<circle cx="257.6" cy="351.0" r="1.55"/>
<circle cx="258.2" cy="351.6" r="1.55"/>
<circle cx="260.6" cy="354.6" r="1.55"/>
<circle cx="262.6" cy="361.6" r="1.55"/>
<circle cx="265.6" cy="365.6" r="1.55"/>
<circle cx="267.6" cy="356.0" r="1.55"/>
<circle cx="270.6" cy="352.6" r="1.55"/>
<circle cx="269.6" cy="357.6" r="1.55"/>
<circle cx="267.6" cy="343.6" r="1.55"/>
<circle cx="273.6" cy="346.0" r="1.55"/>
<circle cx="274.6" cy="342.0" r="1.55"/>
<circle cx="278.6" cy="348.6" r="1.55"/>
<circle cx="280.6" cy="340.0" r="1.55"/>
<circle cx="280.6" cy="344.0" r="1.55"/>
<circle cx="280.6" cy="349.0" r="1.55"/>
<circle cx="279.6" cy="362.6" r="1.55"/>
<circle cx="281.6" cy="369.6" r="1.55"/>
<circle cx="288.6" cy="354.6" r="1.55"/>
<circle cx="288.6" cy="362.6" r="1.55"/>
<circle cx="288.6" cy="366.6" r="1.55"/>
<circle cx="293.6" cy="348.6" r="1.55"/>
<circle cx="298.6" cy="347.0" r="1.55"/>
<circle cx="286.6" cy="344.0" r="1.55"/>
<circle cx="290.6" cy="340.6" r="1.55"/>
<circle cx="266.6" cy="380.6" r="1.55"/>
<circle cx="280.6" cy="381.6" r="1.55"/>
<circle cx="270.6" cy="391.6" r="1.55"/>
<circle cx="271.6" cy="406.6" r="1.55"/>
<circle cx="289.6" cy="340.6" r="1.55"/>
<circle cx="230.0" cy="276.8" r="1.55"/>
<circle cx="241.8" cy="280.8" r="1.55"/>
<circle cx="230.8" cy="293.8" r="1.55"/>
<circle cx="234.8" cy="297.8" r="1.55"/>
<circle cx="224.8" cy="300.8" r="1.55"/>
<circle cx="220.0" cy="302.5" r="1.55"/>
<circle cx="229.8" cy="304.8" r="1.55"/>
<circle cx="239.8" cy="304.8" r="1.55"/>
<circle cx="221.8" cy="314.8" r="1.55"/>
<circle cx="238.8" cy="310.8" r="1.55"/>
<circle cx="234.8" cy="315.8" r="1.55"/>
<circle cx="238.0" cy="315.0" r="1.55"/>
<circle cx="225.8" cy="332.5" r="1.55"/>
<circle cx="269.8" cy="287.8" r="1.55"/>
<circle cx="273.8" cy="287.2" r="1.55"/>
<circle cx="279.8" cy="287.2" r="1.55"/>
<circle cx="293.8" cy="275.8" r="1.55"/>
</g>
<g fill="none" stroke="#74f580" stroke-width="1" shape-rendering="crispEdges">
<path d="M227.0 310.5h5M229.5 308.0v5"/>
<path d="M240.0 374.5h5M242.5 372.0v5"/>
<path d="M256.0 359.5h5M258.5 357.0v5"/>
<path d="M271.0 354.5h5M273.5 352.0v5"/>
<path d="M292.0 360.5h5M294.5 358.0v5"/>
<path d="M294.0 369.5h5M296.5 367.0v5"/>
<path d="M265.0 322.5h5M267.5 320.0v5"/>
<path d="M284.0 328.5h5M286.5 326.0v5"/>
<path d="M288.0 305.5h5M290.5 303.0v5"/>
</g>
<path d="M292 311.3L298.5 312.5L304.5 318" fill="none" stroke="#e6e6e6" stroke-width="1.3"/>
<rect x="593" y="341" width="15" height="242" fill="url(#cb)"/>
<path d="M608.5 341V583M608 581.5H615M608 578.5H615M608 574.5H612M608 570.5H612M608 566.5H612M608 562.5H612M608 558.5H615M608 554.5H612M608 551.5H612M608 547.5H612M608 543.5H612M608 539.5H615M608 535.5H612M608 531.5H612M608 527.5H612M608 523.5H612M608 520.5H615M608 516.5H612M608 512.5H612M608 508.5H612M608 504.5H612M608 500.5H615M608 496.5H612M608 492.5H612M608 489.5H612M608 485.5H612M608 481.5H615M608 477.5H612M608 473.5H612M608 469.5H612M608 465.5H612M608 461.5H615M608 458.5H612M608 454.5H612M608 450.5H612M608 446.5H612M608 442.5H615M608 438.5H612M608 434.5H612M608 431.5H612M608 427.5H612M608 423.5H615M608 419.5H612M608 415.5H612M608 411.5H612M608 407.5H612M608 403.5H615M608 400.5H612M608 396.5H612M608 392.5H612M608 388.5H612M608 384.5H615M608 380.5H612M608 376.5H612M608 372.5H612M608 369.5H612M608 365.5H615M608 361.5H612M608 357.5H612M608 353.5H612M608 349.5H612M608 345.5H615M608 341.5H615" stroke="#000" stroke-width="1" fill="none" shape-rendering="crispEdges"/>
<g class="s" font-weight="bold" font-size="11px" fill="#000" stroke="#000" stroke-width="0.2">
<text x="618" y="345.1" textLength="18.5" lengthAdjust="spacingAndGlyphs">3.1</text>
<text x="618" y="369.1" textLength="18.5" lengthAdjust="spacingAndGlyphs">2.5</text>
<text x="618" y="388.1" textLength="18.5" lengthAdjust="spacingAndGlyphs">2.0</text>
<text x="618" y="407.1" textLength="18.5" lengthAdjust="spacingAndGlyphs">1.5</text>
<text x="618" y="427.1" textLength="18.5" lengthAdjust="spacingAndGlyphs">1.0</text>
<text x="618" y="446.1" textLength="18.5" lengthAdjust="spacingAndGlyphs">0.5</text>
<text x="618" y="465.1" textLength="7.5" lengthAdjust="spacingAndGlyphs">0</text>
<text x="618" y="485.1" textLength="23.3" lengthAdjust="spacingAndGlyphs">-0.5</text>
<text x="618" y="504.1" textLength="23.3" lengthAdjust="spacingAndGlyphs">-1.0</text>
<text x="618" y="524.1" textLength="23.3" lengthAdjust="spacingAndGlyphs">-1.5</text>
<text x="618" y="543.1" textLength="23.3" lengthAdjust="spacingAndGlyphs">-2.0</text>
<text x="618" y="562.1" textLength="23.3" lengthAdjust="spacingAndGlyphs">-2.5</text>
<text x="618" y="585.1" textLength="23.3" lengthAdjust="spacingAndGlyphs">-3.1</text>
</g>
<text class="s" font-weight="bold" font-size="10.6px" transform="translate(656.6,492) rotate(-90)" textLength="53" lengthAdjust="spacingAndGlyphs">Doppler, Hz</text>
<g class="s" font-weight="bold" font-size="10.6px">
<path d="M669 402.5h8M673.5 398v8" stroke="#0000e6" stroke-width="1" fill="none" shape-rendering="crispEdges"/>
<text x="682.6" y="406" fill="#0000e6" stroke="#0000e6" stroke-width="0.3" textLength="44.8" lengthAdjust="spacingAndGlyphs">Positive</text>
<circle cx="673.1" cy="522.9" r="2.6" fill="none" stroke="#ea0000" stroke-width="0.95"/>
<text x="682.6" y="526" fill="#ea0000" stroke="#ea0000" stroke-width="0.3" textLength="50.6" lengthAdjust="spacingAndGlyphs">Negative</text>
</g>
<text class="s" font-size="10.1px" x="654.5" y="593" textLength="138" lengthAdjust="spacingAndGlyphs">ShowSkymap v 1.0   SD v 5.1</text>
<g class="m" font-weight="bold" font-size="13.333px" fill="#000" stroke="#000" stroke-width="0.2">
<text x="399.2" y="19">STATION NAME    YYYY DATE  DDD HHMMSS AXN PPS IGP</text>
<text x="399.2" y="36">Grahamstown     2014 Dec05 339 210730 417 100 -8J</text>
</g>
<g class="m" font-weight="bold" font-size="13.1px" fill="#000" letter-spacing="-0.86" stroke="#000" stroke-width="0.25">
<text x="281.5" y="57">North</text>
<text x="281.5" y="578">South</text>
<text x="16" y="318">West</text>
<text x="552.5" y="318">East</text>
</g>
<g class="m" font-size="12px" fill="#000" letter-spacing="-0.2">
<text x="594" y="71">Num of Sources</text>
<text x="769.3" y="71">401</text>
<text x="594" y="85">Min Freq, kHz</text>
<text x="762.3" y="85">2050</text>
<text x="594" y="99">Max Freq, kHz</text>
<text x="762.3" y="99">2400</text>
<text x="594" y="113">Min Range, km</text>
<text x="769.3" y="113">257</text>
<text x="594" y="127">Max Range, km</text>
<text x="769.3" y="127">280</text>
<text x="594" y="141">Max Amp, dB</text>
<text x="776.3" y="141">65</text>
<text x="594" y="155">Max SNR Amp, dB</text>
<text x="776.3" y="155">39</text>
<text x="594" y="169">Min SNR Amp, dB</text>
<text x="776.3" y="169">12</text>
<text x="594" y="183">Avg SNR Amp, dB</text>
<text x="776.3" y="183">23</text>
<text x="594" y="197">Max RMS Err, deg</text>
<text x="762.3" y="197">12.0</text>
<text x="594" y="211">Min RMS Err, deg</text>
<text x="769.3" y="211">0.0</text>
<text x="594" y="225">Avg RMS Err, deg</text>
<text x="769.3" y="225">2.4</text>
<text x="594" y="239">Doppler Res, Hz</text>
<text x="748.3" y="239">0.0488</text>
<text x="594" y="253">CIT, sec</text>
<text x="755.3" y="253">20.48</text>
<text x="594" y="267">Num of CITs</text>
<text x="783.3" y="267">4</text>
<text x="594" y="281">Polarization</text>
<text x="748.3" y="281">O-mode</text>
<text x="594" y="295">Center of Sources, deg:</text>
<text x="594" y="309">          Zenith</text>
<text x="769.3" y="309">2.6</text>
<text x="594" y="323">          Azimuth</text>
<text x="776.3" y="323">92</text>
</g>
<path d="M725.5 320.5c-0.5-2.5-3.5-2.5-4 0m-1.2-1.6l1.2 1.9l1.9-1" fill="none" stroke="#111" stroke-width="1.05"/>
<g class="m" font-size="12px" fill="#000" letter-spacing="-0.2">
<text x="12" y="572" font-style="italic">V</text>
<text x="19.5" y="575" font-size="10px">h</text>
<text x="33" y="572">=</text><text x="45.3" y="572" font-style="italic">8</text><text x="59.5" y="572">±</text><text x="74" y="572" font-style="italic">11</text><text x="95" y="572">m/s</text>
<text x="12" y="592" font-style="italic">Geographic coordinates</text>
<text x="480" y="572" font-style="italic">V</text>
<text x="488" y="575" font-size="10px" font-weight="bold">z</text>
<text x="501" y="572">=</text><text x="515" y="572" font-style="italic">8</text><text x="529" y="572">±</text><text x="543" y="572" font-style="italic">1</text><text x="557" y="572">m/s</text>
<text x="419" y="592" font-style="italic">Zenith: max 40</text>
<text x="535" y="592" font-style="italic">step 5</text>
<g fill="none" stroke="#111" stroke-width="0.9"><circle cx="520" cy="586" r="1.5"/><circle cx="579.2" cy="586" r="1.5"/></g>
</g>
<path d="M14.6 42.9C12.6 40.5 11.2 37 11.1 31C11 25 13.5 20 17 16.8C21.5 12.8 28 10.8 33 11.8C36 12.3 38 13 39.8 13.8C36 13 33 13 30 13.5C25 14.8 20.5 18.5 17.5 22.5C15 26.5 14.2 30 14.1 34C14.1 37.5 14.3 40 14.6 42.9Z" fill="#3394c3"/>
<text class="sf" x="49" y="30.6" font-size="11.5px" fill="#2e1c28" stroke="#2e1c28" stroke-width="0.25" textLength="30.5" lengthAdjust="spacingAndGlyphs">Lowell</text>
<text class="s" x="20" y="43.2" font-size="10.9px" fill="#982a66" stroke="#982a66" stroke-width="0.18" textLength="60" lengthAdjust="spacingAndGlyphs">DIGISONDE</text>
</svg>
</body></html>
